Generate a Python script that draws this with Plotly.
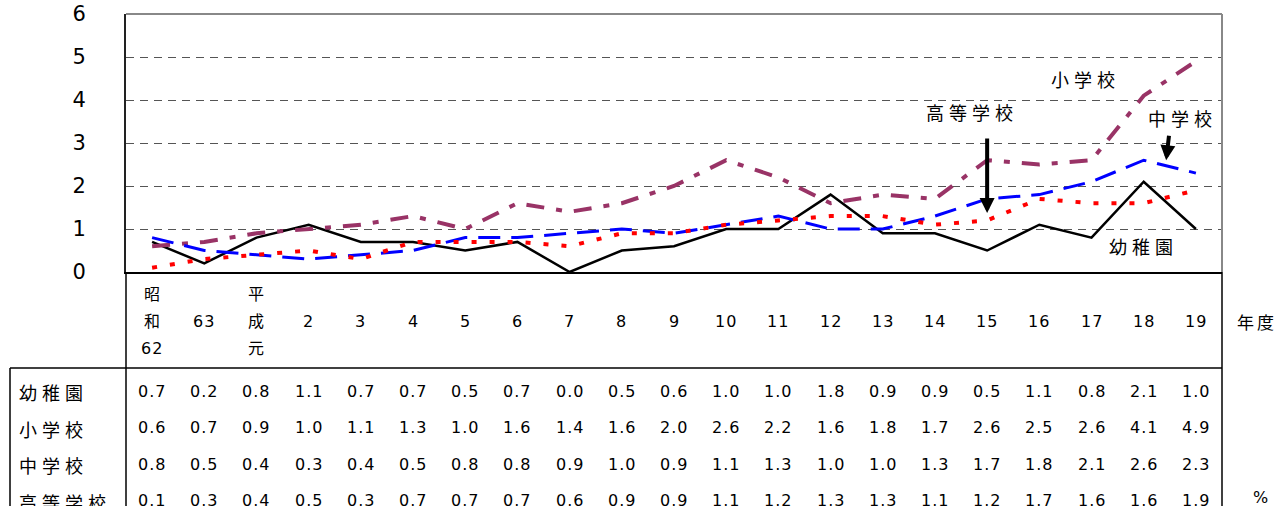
import plotly.graph_objects as go

# 年度 labels (multi-line labels are split on "\n")
years = ["昭\n和\n62", "63", "平\n成\n元", "2", "3", "4", "5", "6", "7", "8", "9",
         "10", "11", "12", "13", "14", "15", "16", "17", "18", "19"]

kinder = [0.7, 0.2, 0.8, 1.1, 0.7, 0.7, 0.5, 0.7, 0.0, 0.5, 0.6,
          1.0, 1.0, 1.8, 0.9, 0.9, 0.5, 1.1, 0.8, 2.1, 1.0]
elementary = [0.6, 0.7, 0.9, 1.0, 1.1, 1.3, 1.0, 1.6, 1.4, 1.6, 2.0,
              2.6, 2.2, 1.6, 1.8, 1.7, 2.6, 2.5, 2.6, 4.1, 4.9]
junior = [0.8, 0.5, 0.4, 0.3, 0.4, 0.5, 0.8, 0.8, 0.9, 1.0, 0.9,
          1.1, 1.3, 1.0, 1.0, 1.3, 1.7, 1.8, 2.1, 2.6, 2.3]
high = [0.1, 0.3, 0.4, 0.5, 0.3, 0.7, 0.7, 0.7, 0.6, 0.9, 0.9,
        1.1, 1.2, 1.3, 1.3, 1.1, 1.2, 1.7, 1.6, 1.6, 1.9]

series_names = ["幼稚園", "小学校", "中学校", "高等学校"]
series_values = [kinder, elementary, junior, high]

W, H = 1283, 506
L, R, T, B = 126, 61, 14, 234
PW, PH = W - L - R, H - T - B


def px_x(p):
    return (p - L) / PW


def px_y(p):
    return (H - B - p) / PH


FONT = "DejaVu Sans, Noto Sans CJK JP, sans-serif"
CJK = "Noto Sans CJK JP, DejaVu Sans, sans-serif"


def spaced(s, ls):
    return f'<span style="letter-spacing:{ls}px">{s}</span>'


xs = list(range(len(years)))
styles = [
    dict(color="#000000", width=2.5, dash="solid"),
    dict(color="#993366", width=4, dash="18px,12px,6px,12px"),
    dict(color="#0000FF", width=3, dash="22px,11px"),
    dict(color="#FF0000", width=4, dash="5px,13px"),
]

fig = go.Figure()
for name, vals, st in zip(series_names, series_values, styles):
    fig.add_trace(go.Scatter(x=xs, y=vals, mode="lines", name=name,
                             line=st, showlegend=False, hoverinfo="skip"))

annotations = []

# series labels inside the plot
label_pos = {"小学校": (17.89, 4.49), "高等学校": (15.71, 3.72),
             "中学校": (19.75, 3.58), "幼稚園": (18.99, 0.60)}
for name, (lx, ly) in label_pos.items():
    annotations.append(dict(x=lx, y=ly, xref="x", yref="y", showarrow=False,
                            xanchor="center", yanchor="middle",
                            text=spaced(name, 5), font=dict(family=CJK, size=18, color="black")))

# arrows pointing at the 高等学校 and 中学校 lines
annotations.append(dict(x=16, y=1.37, xref="x", yref="y", text="", showarrow=True,
                        ax=0, ay=-76, arrowhead=2, arrowwidth=4, arrowsize=0.75,
                        arrowcolor="black"))
annotations.append(dict(x=19.43, y=2.6, xref="x", yref="y", text="", showarrow=True,
                        ax=3, ay=-26, arrowhead=2, arrowwidth=4, arrowsize=0.75,
                        arrowcolor="black"))

# year header row of the table
line_y = [294, 321, 348]
for i, lab in enumerate(years):
    parts = lab.split("\n")
    ys = line_y if len(parts) == 3 else [321]
    for part, py in zip(parts, ys):
        annotations.append(dict(x=i, y=px_y(py), xref="x", yref="paper", showarrow=False,
                                xanchor="center", yanchor="middle",
                                text=spaced(part, 1), font=dict(family=FONT, size=16, color="black")))

annotations.append(dict(x=px_x(1257), y=px_y(321), xref="paper", yref="paper", showarrow=False,
                        xanchor="center", yanchor="middle",
                        text=spaced("年度", 3), font=dict(family=CJK, size=17, color="black")))
annotations.append(dict(x=px_x(1260), y=px_y(497), xref="paper", yref="paper", showarrow=False,
                        xanchor="center", yanchor="middle",
                        text="%", font=dict(family=FONT, size=16, color="black")))

# value rows of the table
row_y = [391, 427.5, 464, 500.5]
for name, vals, py in zip(series_names, series_values, row_y):
    annotations.append(dict(x=px_x(17), y=px_y(py + 1), xref="paper", yref="paper",
                            xanchor="left", yanchor="middle", showarrow=False,
                            text=spaced(name, 5),
                            font=dict(family=CJK, size=18, color="black")))
    for i, v in enumerate(vals):
        annotations.append(dict(x=i, y=px_y(py), xref="x", yref="paper", showarrow=False,
                                xanchor="center", yanchor="middle",
                                text=spaced(f"{v:.1f}", 1),
                                font=dict(family=FONT, size=16, color="black")))

bottom = px_y(512)
shapes = [
    # plot frame (top and right in gray)
    dict(type="line", xref="paper", yref="paper", x0=0, x1=1, y0=1, y1=1,
         line=dict(color="#888888", width=2)),
    dict(type="line", xref="paper", yref="paper", x0=1, x1=1, y0=0, y1=1,
         line=dict(color="#888888", width=2)),
    # table rules
    dict(type="line", xref="paper", yref="paper", x0=px_x(10), x1=1, y0=px_y(368), y1=px_y(368),
         line=dict(color="black", width=1.5)),
    dict(type="line", xref="paper", yref="paper", x0=px_x(10), x1=px_x(10), y0=px_y(368), y1=bottom,
         line=dict(color="black", width=1.5)),
    dict(type="line", xref="paper", yref="paper", x0=0, x1=0, y0=0, y1=bottom,
         line=dict(color="black", width=1.5)),
    dict(type="line", xref="paper", yref="paper", x0=1, x1=1, y0=0, y1=bottom,
         line=dict(color="black", width=1.5)),
]

fig.update_layout(
    width=W, height=H,
    margin=dict(l=L, r=R, t=T, b=B, pad=0, autoexpand=False),
    paper_bgcolor="white", plot_bgcolor="white",
    annotations=annotations, shapes=shapes,
    showlegend=False,
)
fig.update_xaxes(range=[-0.5, len(years) - 0.5], showticklabels=False, showgrid=False,
                 zeroline=False, showline=True, linecolor="black", linewidth=2, ticks="",
                 automargin=False)
fig.update_yaxes(range=[0, 6], dtick=1, tick0=0, showgrid=True, gridcolor="#555555",
                 gridwidth=1, griddash="8px,6px", zeroline=False, showline=True,
                 linecolor="#222222", linewidth=2, ticks="", ticklabelstandoff=34,
                 tickfont=dict(family=FONT, size=21, color="black"), automargin=False)

fig.write_html("out.html")
